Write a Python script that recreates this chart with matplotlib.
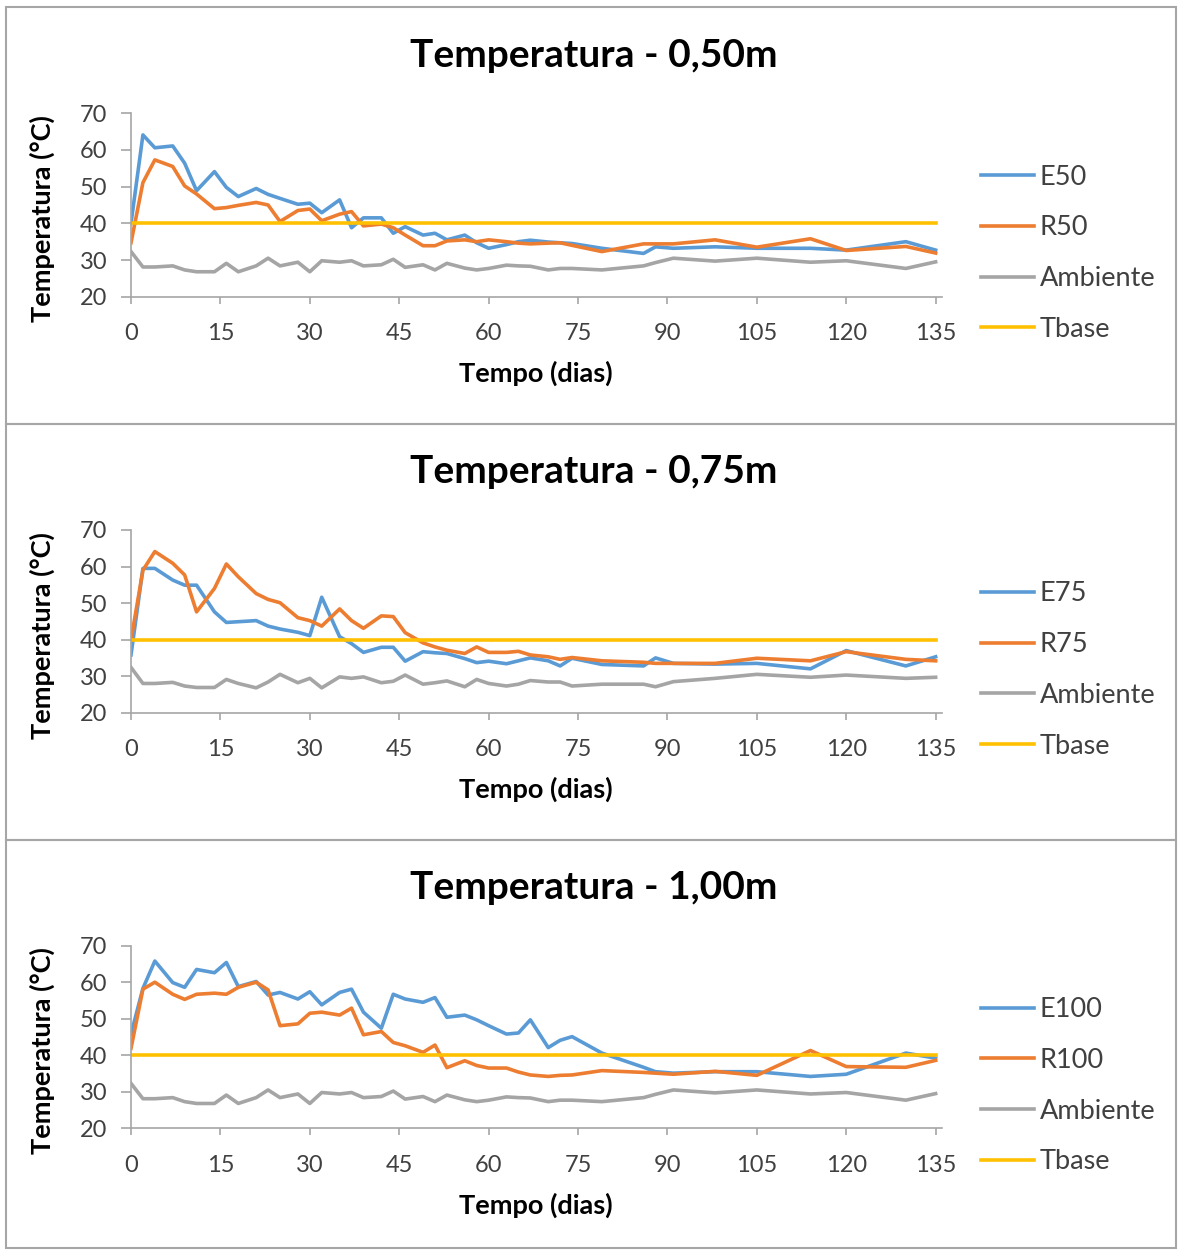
import matplotlib
matplotlib.use("Agg")
import matplotlib.pyplot as plt

# -------- data --------
dias = [0, 2, 4, 7, 9, 11, 14, 16, 18, 21, 23, 25, 28, 30, 32, 35, 37, 39, 42, 44,
        46, 49, 51, 53, 56, 58, 60, 63, 65, 67, 70, 72, 74, 79, 86, 88, 91, 98, 105,
        114, 120, 130, 135]

ambiente = [32.3, 28.1, 28.1, 28.4, 27.3, 26.8, 26.8, 29.1, 26.8, 28.4, 30.5, 28.4, 29.4,
            26.8, 29.8, 29.4, 29.8, 28.4, 28.7, 30.2, 28.0, 28.7, 27.3, 29.1, 27.8, 27.3,
            27.7, 28.6, 28.4, 28.3, 27.3, 27.7, 27.7, 27.3, 28.4, 29.3, 30.5, 29.7, 30.5,
            29.4, 29.8, 27.7, 29.5]
ambiente_75 = [32.4, 28.0, 28.0, 28.3, 27.3, 26.9, 26.9, 29.1, 28.0, 26.8, 28.4, 30.5, 28.2,
               29.4, 26.8, 29.8, 29.4, 29.8, 28.2, 28.6, 30.3, 27.8, 28.2, 28.7, 27.1, 29.1,
               28.0, 27.3, 27.8, 28.8, 28.4, 28.4, 27.3, 27.8, 27.8, 27.1, 28.5, 29.4, 30.5,
               29.7, 30.3, 29.4, 29.7]

e50 = [40.0, 64.1, 60.6, 61.1, 56.4, 48.9, 54.1, 49.8, 47.3, 49.5, 47.9, 46.8, 45.2, 45.5,
       42.9, 46.4, 38.8, 41.5, 41.5, 37.3, 39.1, 36.8, 37.3, 35.5, 36.8, 34.7, 33.2, 34.2,
       35.0, 35.4, 34.9, 34.7, 34.5, 33.2, 31.8, 33.6, 33.2, 33.6, 33.2, 33.2, 32.7, 35.0, 32.7]
r50 = [34.7, 51.1, 57.3, 55.5, 50.2, 48.0, 44.0, 44.3, 44.9, 45.7, 45.0, 40.5, 43.5, 43.9,
       40.7, 42.5, 43.2, 39.3, 39.8, 38.8, 36.8, 33.9, 33.9, 35.2, 35.5, 35.0, 35.5, 35.0,
       34.6, 34.4, 34.6, 34.7, 34.0, 32.3, 34.4, 34.4, 34.4, 35.5, 33.5, 35.8, 32.6, 33.7, 31.9]

e75 = [35.8, 59.5, 59.5, 56.3, 54.9, 54.9, 47.6, 44.7, 44.9, 45.2, 43.7, 42.9, 42.0, 41.1,
       51.6, 40.8, 38.9, 36.5, 37.9, 37.9, 34.1, 36.7, 36.4, 36.2, 34.8, 33.7, 34.1, 33.4,
       34.2, 35.0, 34.2, 32.8, 34.9, 33.2, 32.8, 35.0, 33.5, 33.3, 33.5, 32.0, 37.0, 32.8, 35.3]
r75 = [39.9, 59.0, 64.1, 60.9, 57.7, 47.6, 54.0, 60.7, 57.2, 52.6, 51.0, 50.1, 46.0, 45.2,
       43.7, 48.4, 45.2, 43.1, 46.5, 46.3, 41.9, 39.1, 38.0, 37.1, 36.2, 38.0, 36.5, 36.5,
       36.8, 35.8, 35.3, 34.6, 35.1, 34.2, 33.8, 33.5, 33.5, 33.5, 34.9, 34.2, 36.7, 34.6, 34.2]

e100 = [45.8, 58.3, 65.8, 59.9, 58.6, 63.5, 62.6, 65.4, 58.8, 60.2, 56.5, 57.2, 55.4, 57.4,
        53.8, 57.2, 58.1, 51.8, 47.4, 56.7, 55.4, 54.5, 55.8, 50.4, 51.0, 49.7, 48.1, 45.8,
        46.1, 49.7, 42.1, 44.1, 45.1, 40.6, 36.7, 35.5, 35.1, 35.5, 35.5, 34.2, 34.8, 40.6, 39.2]
r100 = [41.9, 58.1, 60.0, 56.7, 55.3, 56.7, 57.0, 56.7, 58.6, 60.0, 57.9, 48.1, 48.6, 51.5,
        51.8, 51.0, 52.9, 45.6, 46.5, 43.5, 42.6, 40.8, 42.8, 36.6, 38.5, 37.2, 36.5, 36.5,
        35.4, 34.6, 34.2, 34.5, 34.6, 35.8, 35.3, 35.1, 34.8, 35.6, 34.5, 41.3, 36.9, 36.7, 38.6]

tbase = 40
titulos = ["Temperatura - 0,50m", "Temperatura - 0,75m", "Temperatura - 1,00m"]
nomes = [("E50", "R50"), ("E75", "R75"), ("E100", "R100")]
series = [(e50, r50, ambiente), (e75, r75, ambiente_75), (e100, r100, ambiente)]
xticks = [0, 15, 30, 45, 60, 75, 90, 105, 120, 135]
yticks = [20, 30, 40, 50, 60, 70]

# -------- style --------
AZUL, LARANJA, CINZA, OURO = "#5B9BD5", "#ED7D31", "#A5A5A5", "#FFC000"
TXT = "#404040"
plt.rcParams["font.family"] = ["Lato", "DejaVu Sans"]

W, H = 1178, 1250
fig = plt.figure(figsize=(W / 100, H / 100), dpi=100)

# panel frames (pixel coords: top of each panel)
topos = [7, 424, 840]
fundo = 1248
for i, t in enumerate(topos):
    b = topos[i + 1] if i < 2 else fundo
    fig.add_artist(plt.Rectangle((6 / W, 1 - b / H), (1176 - 6) / W, (b - t) / H,
                                 transform=fig.transFigure, fill=False,
                                 edgecolor="#A6A6A6", linewidth=1.5))

# axes placement (pixels): y=70 at top, y=20 at bottom
eixos_px = [(113.3, 296.7), (530.0, 712.7), (945.7, 1128.3)]
x0, x1 = 131, 941.6

for i in range(3):
    top, bot = eixos_px[i]
    ax = fig.add_axes([x0 / W, 1 - bot / H, (x1 - x0) / W, (bot - top) / H])
    e, r, amb = series[i]
    ax.plot(dias, e, color=AZUL, lw=2.6, label=nomes[i][0], solid_joinstyle="round")
    ax.plot(dias, r, color=LARANJA, lw=2.6, label=nomes[i][1], solid_joinstyle="round")
    ax.plot(dias, amb, color=CINZA, lw=2.6, label="Ambiente", solid_joinstyle="round")
    ax.plot([dias[0], dias[-1]], [tbase, tbase], color=OURO, lw=2.6, label="Tbase")

    ax.set_xlim(0, 136)
    ax.set_ylim(20, 70)
    ax.set_xticks(xticks)
    ax.set_yticks(yticks)
    for s in ["top", "right"]:
        ax.spines[s].set_visible(False)
    for s in ["left", "bottom"]:
        ax.spines[s].set_color("#A6A6A6")
        ax.spines[s].set_linewidth(1.2)
    ax.tick_params(axis="x", direction="out", length=5, width=1.2, color="#A6A6A6",
                   labelsize=17, labelcolor=TXT, pad=14)
    ax.tick_params(axis="y", direction="out", length=7, width=1.2, color="#A6A6A6",
                   labelsize=17, labelcolor=TXT, pad=10)

    # titles and axis labels
    fig.text(594 / W, 1 - (top - 58) / H, titulos[i], ha="center", va="center",
             fontsize=28, fontweight="bold", color="black")
    fig.text(42 / W, 1 - ((top + bot) / 2 + 14) / H, "Temperatura (°C)", rotation=90,
             ha="center", va="center", fontsize=19.5, fontweight="bold", color="black")
    fig.text((x0 + x1) / 2 / W, 1 - (bot + 77) / H, "Tempo (dias)", ha="center",
             va="center", fontsize=19.5, fontweight="bold", color="black")

    leg = ax.legend(loc="center left", bbox_to_anchor=(981 / W, 1 - (top + 140) / H),
                    bbox_transform=fig.transFigure, frameon=False, fontsize=19.5,
                    handlelength=1.95, handletextpad=0.22, labelspacing=0.95,
                    borderaxespad=0, borderpad=0)
    for t in leg.get_texts():
        t.set_color(TXT)

fig.savefig("out.png", dpi=100)
